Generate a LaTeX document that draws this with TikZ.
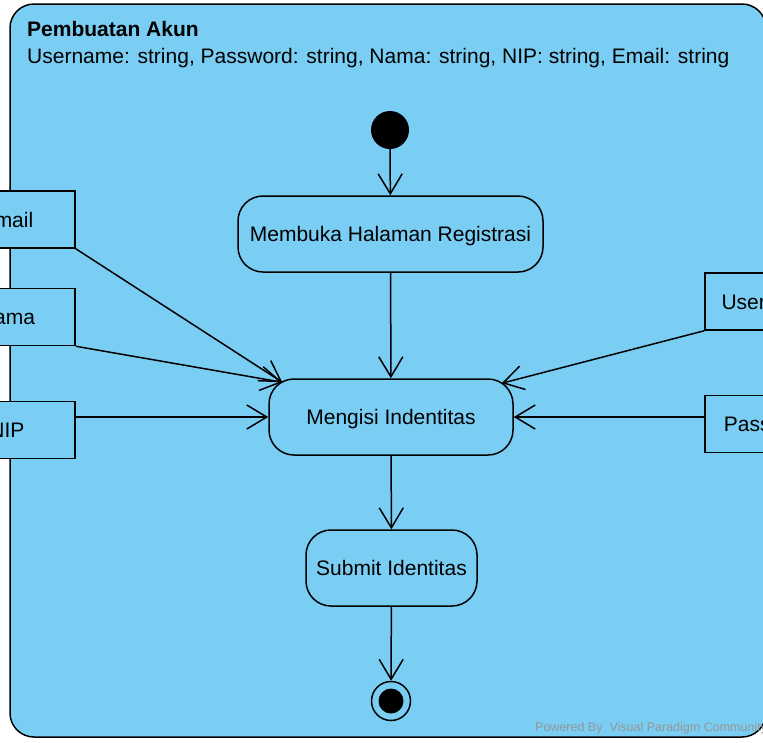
\documentclass[tikz,border=0pt]{standalone}
\usepackage{fontspec}
\setmainfont{Liberation Sans}
\usetikzlibrary{arrows.meta,calc,positioning}
\definecolor{vpBlue}{RGB}{122,206,244}
\definecolor{vpGray}{RGB}{150,150,150}
\tikzset{
	act/.style={draw,line width=1.5pt,fill=vpBlue,rounded corners=25pt,minimum height=76pt,text height=15pt,text depth=0pt,font=\fontsize{21}{24}\selectfont},
	pinbox/.style={draw,line width=1.5pt,fill=vpBlue,minimum width=136pt,minimum height=57pt,text height=15pt,text depth=0pt,font=\fontsize{21}{24}\selectfont},
	flow/.style={line width=1.5pt,-{Straight Barb[length=20pt,width=24pt]}},
}
\begin{document}
\begin{tikzpicture}[x=1pt,y=-1pt]
\useasboundingbox (0,0) rectangle (763,742);
\clip (0,0) rectangle (763,742);
\draw [line width=1.5pt,fill=vpBlue,rounded corners=24pt] (10,4) rectangle (766,737);
\node [anchor=base west,inner sep=0,font=\bfseries\fontsize{21}{24}\selectfont] (judul) at (27,36) {Pembuatan Akun};
\node [anchor=base west,inner sep=0,font=\fontsize{21}{24}\selectfont] (param) at (27,63) {Username: string, Password: string, Nama: string, NIP: string, Email: string};
\node [circle,fill=black,minimum size=38pt,inner sep=0] (mulai) at (390,130) {};
\node [act,minimum width=305pt] (buka) at (390.5,234) {Membuka Halaman Registrasi};
\node [act,minimum width=244pt] (isi) at (391,417) {Mengisi Indentitas};
\node [act,minimum width=171pt] (kirim) at (391.5,568) {Submit Identitas};
\node [circle,draw,line width=1.5pt,minimum size=39pt,inner sep=0] (selesai) at (391,701) {};
\node [circle,fill=black,minimum size=25pt,inner sep=0] (selesaiDot) at (selesai) {};
\node [pinbox] (email) at (7,219.5) {Email};
\node [pinbox] (nama) at (7,317) {Nama};
\node [pinbox] (nip) at (7,430) {NIP};
\node [pinbox,minimum width=130pt] (user) at (770,301.5) {Username};
\node [pinbox,minimum width=130pt] (pass) at (770,424) {Password};
\coordinate (isiKiri) at ($(isi.north west)+(14,4)$);
\coordinate (isiKanan) at ($(isi.north east)+(-12,5)$);
\draw [flow] (mulai) -- (buka);
\draw [flow] (buka) -- (isi);
\draw [flow] (isi) -- (kirim);
\draw [flow] (kirim) -- (selesai);
\draw [flow] (email.south east) -- (isiKiri);
\draw [flow] (nama.south east) -- (isiKiri);
\draw [flow] (nip.east |- isi) -- (isi.west);
\draw [flow] (user.south west) -- (isiKanan);
\draw [flow] (pass.west |- isi) -- (isi.east);
\node [anchor=base west,inner sep=0,text=vpGray,font=\fontsize{12.5}{14}\selectfont] (vp) at (535,731) {Powered By\ \ Visual Paradigm Community};
\end{tikzpicture}
\end{document}
